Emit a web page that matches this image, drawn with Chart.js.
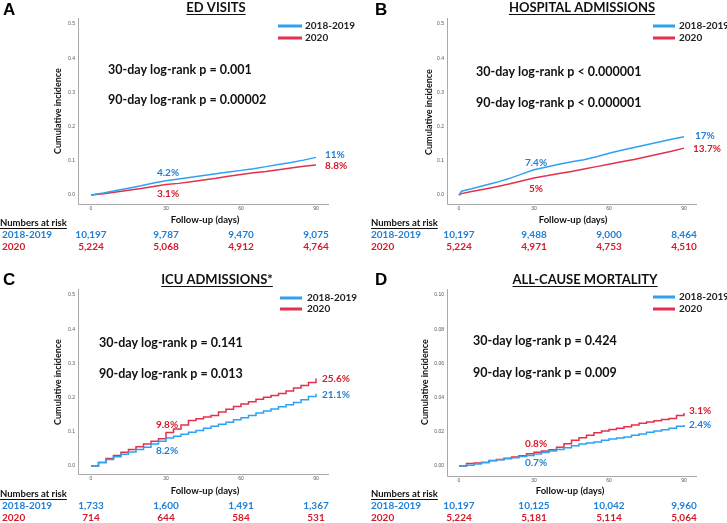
<!DOCTYPE html>
<html><head><meta charset="utf-8">
<script src="https://cdn.jsdelivr.net/npm/chart.js@4.4.1/dist/chart.umd.min.js"></script>
<style>
html,body{margin:0;padding:0;background:#fff}
body{width:727px;height:523px;position:relative;overflow:hidden}
.pane{position:absolute}
canvas{display:block}
</style></head>
<body>
<div class="pane" style="left:0;top:0"><canvas id="cA" width="363" height="261"></canvas></div>
<div class="pane" style="left:363px;top:0"><canvas id="cB" width="364" height="261"></canvas></div>
<div class="pane" style="left:0;top:261px"><canvas id="cC" width="363" height="262"></canvas></div>
<div class="pane" style="left:363px;top:261px"><canvas id="cD" width="364" height="262"></canvas></div>
<script>
// ---------- DATA ----------
const seriesNames = ['2018-2019', '2020'];
const riskDays = [0, 30, 60, 90];
const xTickValues = [0, 30, 60, 90];
const xTickLabels = ['0', '30', '60', '90'];
const yTicksMain = [0, 0.1, 0.2, 0.3, 0.4, 0.5];
const yTickLabelsMain = ['0.0', '0.1', '0.2', '0.3', '0.4', '0.5'];
const yTicksMort = [0, 0.02, 0.04, 0.06, 0.08, 0.10];
const yTickLabelsMort = ['0.00', '0.02', '0.04', '0.06', '0.08', '0.10'];

// A: ED visits
const edDays = [0, 5, 10, 15, 20, 25, 30, 35, 40, 45, 50, 55, 60, 65, 70, 75, 80, 85, 90];
const edBlue = [0, 0.006, 0.013, 0.020, 0.027, 0.035, 0.042, 0.047, 0.052, 0.057, 0.062, 0.067, 0.072, 0.077, 0.083, 0.089, 0.095, 0.102, 0.110];
const edRed  = [0, 0.004, 0.009, 0.014, 0.019, 0.025, 0.031, 0.034, 0.039, 0.044, 0.049, 0.055, 0.060, 0.065, 0.069, 0.074, 0.079, 0.084, 0.088];
const edRiskBlue = ['10,197', '9,787', '9,470', '9,075'];
const edRiskRed  = ['5,224', '5,068', '4,912', '4,764'];
const edPvals = ['30-day log-rank p = 0.001', '90-day log-rank p = 0.00002'];
const edMarkText = ['4.2%', '3.1%', '11%', '8.8%'];
const edMarkDay = [30, 30, 90, 90];
const edMarkSeries = [0, 1, 0, 1];

// B: Hospital admissions
const hospDays = [0, 1, 5, 10, 15, 20, 25, 30, 35, 40, 45, 50, 55, 60, 65, 70, 75, 80, 85, 90];
const hospBlue = [0, 0.011, 0.018, 0.028, 0.037, 0.048, 0.061, 0.074, 0.082, 0.090, 0.097, 0.103, 0.112, 0.122, 0.131, 0.139, 0.147, 0.155, 0.163, 0.170];
const hospRed  = [0, 0.004, 0.010, 0.017, 0.024, 0.032, 0.041, 0.050, 0.056, 0.063, 0.069, 0.076, 0.083, 0.090, 0.097, 0.104, 0.112, 0.120, 0.128, 0.137];
const hospRiskBlue = ['10,197', '9,488', '9,000', '8,464'];
const hospRiskRed  = ['5,224', '4,971', '4,753', '4,510'];
const hospPvals = ['30-day log-rank p < 0.000001', '90-day log-rank p < 0.000001'];
const hospMarkText = ['7.4%', '5%', '17%', '13.7%'];
const hospMarkDay = [30, 30, 90, 90];
const hospMarkSeries = [0, 1, 0, 1];

// C: ICU admissions
const icuDays = [0, 3, 6, 9, 12, 15, 18, 21, 24, 27, 30, 33, 36, 39, 42, 45, 48, 51, 54, 57, 60, 63, 66, 69, 72, 75, 78, 81, 84, 87, 90];
const icuBlue = [0, 0.010, 0.019, 0.027, 0.034, 0.041, 0.048, 0.055, 0.064, 0.072, 0.082, 0.087, 0.093, 0.099, 0.104, 0.110, 0.116, 0.122, 0.128, 0.135, 0.141, 0.148, 0.155, 0.161, 0.167, 0.173, 0.179, 0.186, 0.194, 0.203, 0.211];
const icuRed  = [0, 0.010, 0.022, 0.031, 0.040, 0.048, 0.056, 0.064, 0.072, 0.080, 0.098, 0.108, 0.120, 0.133, 0.138, 0.143, 0.148, 0.158, 0.166, 0.174, 0.181, 0.188, 0.195, 0.201, 0.206, 0.212, 0.219, 0.228, 0.235, 0.244, 0.256];
const icuRiskBlue = ['1,733', '1,600', '1,491', '1,367'];
const icuRiskRed  = ['714', '644', '584', '531'];
const icuPvals = ['30-day log-rank p = 0.141', '90-day log-rank p = 0.013'];
const icuMarkText = ['9.8%', '8.2%', '25.6%', '21.1%'];
const icuMarkDay = [30, 30, 90, 90];
const icuMarkSeries = [1, 0, 1, 0];

// D: All-cause mortality
const mortDays = [0, 3, 6, 9, 12, 15, 18, 21, 24, 27, 30, 33, 36, 39, 42, 45, 48, 51, 54, 57, 60, 63, 66, 69, 72, 75, 78, 81, 84, 87, 90];
const mortBlue = [0, 0.0005, 0.0012, 0.0020, 0.0030, 0.0036, 0.0042, 0.0048, 0.0055, 0.0062, 0.0070, 0.0079, 0.0088, 0.0097, 0.0107, 0.0118, 0.0128, 0.0135, 0.0140, 0.0150, 0.0158, 0.0163, 0.0170, 0.0180, 0.0187, 0.0197, 0.0205, 0.0212, 0.0220, 0.0232, 0.0240];
const mortRed  = [0, 0.0015, 0.0018, 0.0020, 0.0032, 0.0038, 0.0045, 0.0052, 0.0060, 0.0072, 0.0080, 0.0088, 0.0095, 0.0110, 0.0130, 0.0150, 0.0165, 0.0180, 0.0195, 0.0205, 0.0213, 0.0220, 0.0230, 0.0240, 0.0250, 0.0258, 0.0265, 0.0272, 0.0278, 0.0295, 0.0310];
const mortRiskBlue = ['10,197', '10,125', '10,042', '9,960'];
const mortRiskRed  = ['5,224', '5,181', '5,114', '5,064'];
const mortPvals = ['30-day log-rank p = 0.424', '90-day log-rank p = 0.009'];
const mortMarkText = ['0.8%', '0.7%', '3.1%', '2.4%'];
const mortMarkDay = [30, 30, 90, 90];
const mortMarkSeries = [1, 0, 1, 0];

// ---------- STYLE ----------
const LINE_BLUE = '#2fa2ef', LINE_RED = '#e3304c';
const TEXT_BLUE = '#1f7fd6', TEXT_RED = '#d51b2a';
const FONT = 'Lato, "Open Sans", sans-serif';
const AXIS_COLOR = '#a8a8a8';

const panels = [
  { id: 'cA', letter: 'A', title: 'ED VISITS', days: edDays, blue: edBlue, red: edRed, stepped: false,
    riskBlue: edRiskBlue, riskRed: edRiskRed, pvals: edPvals,
    markText: edMarkText, markDay: edMarkDay, markSeries: edMarkSeries,
    yTicks: yTicksMain, yLabels: yTickLabelsMain,
    L: { area: [78, 329, 18, 204], xr: [-5.2, 95.2], yr: [-0.0263, 0.5175], letter: [3, 10], title: [216, 8],
         legend: { x0: 278, x1: 302, tx: 305, y: [26, 38] }, pv: { x: 108, y: [70, 100] },
         yTitle: [58, 111], xTitle: [205, 220], riskHead: [0, 223], rows: [235, 247], rowX: 2,
         markOff: [[2, -8, 'center'], [2, 9, 'center'], [9, -3, 'left'], [9, 1, 'left']] } },
  { id: 'cB', letter: 'B', title: 'HOSPITAL ADMISSIONS', days: hospDays, blue: hospBlue, red: hospRed, stepped: false,
    riskBlue: hospRiskBlue, riskRed: hospRiskRed, pvals: hospPvals,
    markText: hospMarkText, markDay: hospMarkDay, markSeries: hospMarkSeries,
    yTicks: yTicksMain, yLabels: yTickLabelsMain,
    L: { area: [84, 334, 18, 204], xr: [-4.8, 95.2], yr: [-0.0263, 0.5175], letter: [12, 10], title: [219, 8],
         legend: { x0: 290, x1: 312, tx: 316, y: [26, 38] }, pv: { x: 113, y: [72, 103] },
         yTitle: [66, 112], xTitle: [210, 220], riskHead: [8, 223], rows: [235, 247], rowX: 8,
         markOff: [[2, -7, 'center'], [2, 11, 'center'], [11, -1, 'left'], [9, 1, 'left']] } },
  { id: 'cC', letter: 'C', title: 'ICU ADMISSIONS*', days: icuDays, blue: icuBlue, red: icuRed, stepped: true,
    riskBlue: icuRiskBlue, riskRed: icuRiskRed, pvals: icuPvals,
    markText: icuMarkText, markDay: icuMarkDay, markSeries: icuMarkSeries,
    yTicks: yTicksMain, yLabels: yTickLabelsMain,
    L: { area: [78, 329, 28, 213], xr: [-5.2, 95.2], yr: [-0.0234, 0.5175], letter: [3, 19], title: [217, 19],
         legend: { x0: 280, x1: 302, tx: 307, y: [37, 48] }, pv: { x: 99, y: [82, 113] },
         yTitle: [58, 121], xTitle: [205, 230], riskHead: [0, 233], rows: [245, 257], rowX: 2,
         markOff: [[1, -8, 'center'], [1, 13, 'center'], [6, 0, 'left'], [6, 1, 'left']] } },
  { id: 'cD', letter: 'D', title: 'ALL-CAUSE MORTALITY', days: mortDays, blue: mortBlue, red: mortRed, stepped: true,
    riskBlue: mortRiskBlue, riskRed: mortRiskRed, pvals: mortPvals,
    markText: mortMarkText, markDay: mortMarkDay, markSeries: mortMarkSeries,
    yTicks: yTicksMort, yLabels: yTickLabelsMort,
    L: { area: [84, 334, 28, 215], xr: [-4.8, 95.2], yr: [-0.00585, 0.1035], letter: [12, 19], title: [222, 19],
         legend: { x0: 290, x1: 312, tx: 316, y: [36, 48] }, pv: { x: 110, y: [80, 112] },
         yTitle: [62, 121], xTitle: [207, 230], riskHead: [8, 233], rows: [245, 257], rowX: 8,
         markOff: [[2, -9, 'center'], [2, 9, 'center'], [5, -2, 'left'], [5, 0, 'left']] } }
];

function txt(ctx, s, x, y, font, color, align) {
  ctx.font = font; ctx.fillStyle = color; ctx.textAlign = align || 'left'; ctx.textBaseline = 'middle';
  ctx.fillText(s, x, y);
  return ctx.measureText(s).width;
}

const axesPlugin = {
  id: 'panelAxes',
  beforeDatasetsDraw(chart) {
    const p = panels.find(q => q.id === chart.canvas.id);
    const ctx = chart.ctx, xs = chart.scales.x, ys = chart.scales.y, a = chart.chartArea;
    ctx.save();
    ctx.strokeStyle = AXIS_COLOR; ctx.lineWidth = 1;
    ctx.beginPath();
    ctx.moveTo(Math.round(a.left) + 0.5, a.top);
    ctx.lineTo(Math.round(a.left) + 0.5, Math.round(a.bottom) + 0.5);
    ctx.lineTo(a.right, Math.round(a.bottom) + 0.5);
    ctx.stroke();
    const tf = '5px Arial, sans-serif';
    for (let i = 0; i < p.yTicks.length; i++) {
      txt(ctx, p.yLabels[i], a.left - 3, ys.getPixelForValue(p.yTicks[i]), tf, '#555', 'right');
    }
    for (let i = 0; i < xTickValues.length; i++) {
      txt(ctx, xTickLabels[i], xs.getPixelForValue(xTickValues[i]), a.bottom + 5, tf, '#555', 'center');
    }
    ctx.restore();
  }
};

const textPlugin = {
  id: 'panelTexts',
  afterDraw(chart) {
    const p = panels.find(q => q.id === chart.canvas.id);
    const L = p.L, ctx = chart.ctx, xs = chart.scales.x, ys = chart.scales.y;
    ctx.save();
    txt(ctx, p.letter, L.letter[0], L.letter[1], 'bold 17px "Liberation Sans", Arial, sans-serif', '#000', 'left');
    const tw = txt(ctx, p.title, L.title[0], L.title[1], 'bold 13px ' + FONT, '#111', 'center');
    ctx.fillStyle = '#111'; ctx.fillRect(L.title[0] - tw / 2, L.title[1] + 6, tw, 1);
    const cols = [LINE_BLUE, LINE_RED];
    for (let i = 0; i < 2; i++) {
      ctx.fillStyle = cols[i];
      ctx.fillRect(L.legend.x0, L.legend.y[i] - 1.5, L.legend.x1 - L.legend.x0, 3);
      txt(ctx, seriesNames[i], L.legend.tx, L.legend.y[i], 'bold 10px ' + FONT, '#222', 'left');
    }
    for (let i = 0; i < 2; i++) txt(ctx, p.pvals[i], L.pv.x, L.pv.y[i], 'bold 12.5px ' + FONT, '#111', 'left');
    const series = [p.blue, p.red], tcols = [TEXT_BLUE, TEXT_RED];
    for (let i = 0; i < p.markText.length; i++) {
      const s = p.markSeries[i];
      const idx = p.days.indexOf(p.markDay[i]);
      const px = xs.getPixelForValue(p.markDay[i]) + L.markOff[i][0];
      const py = ys.getPixelForValue(series[s][idx]) + L.markOff[i][1];
      txt(ctx, p.markText[i], px, py, 'bold 10px ' + FONT, tcols[s], L.markOff[i][2]);
    }
    ctx.save();
    ctx.translate(L.yTitle[0], L.yTitle[1]); ctx.rotate(-Math.PI / 2);
    txt(ctx, 'Cumulative incidence', 0, 0, 'bold 9px ' + FONT, '#111', 'center');
    ctx.restore();
    txt(ctx, 'Follow-up (days)', L.xTitle[0], L.xTitle[1], 'bold 9.5px ' + FONT, '#111', 'center');
    const hw = txt(ctx, 'Numbers at risk', L.riskHead[0], L.riskHead[1], 'bold 9.5px ' + FONT, '#111', 'left');
    ctx.fillStyle = '#111'; ctx.fillRect(L.riskHead[0], L.riskHead[1] + 5, hw, 1);
    const rows = [p.riskBlue, p.riskRed];
    for (let r = 0; r < 2; r++) {
      txt(ctx, seriesNames[r], L.rowX, L.rows[r], 'bold 10px ' + FONT, tcols[r], 'left');
      for (let i = 0; i < riskDays.length; i++) {
        txt(ctx, rows[r][i], xs.getPixelForValue(riskDays[i]), L.rows[r], 'bold 10px ' + FONT, tcols[r], 'center');
      }
    }
    ctx.restore();
  }
};

panels.forEach(p => {
  const L = p.L, cv = document.getElementById(p.id);
  const W = cv.width, H = cv.height;
  const mkData = arr => p.days.map((d, i) => ({ x: d, y: arr[i] }));
  new Chart(cv, {
    type: 'line',
    data: {
      datasets: [
        { label: seriesNames[0], data: mkData(p.blue), borderColor: LINE_BLUE, borderWidth: 1.5, pointRadius: 0, stepped: p.stepped, fill: false },
        { label: seriesNames[1], data: mkData(p.red), borderColor: LINE_RED, borderWidth: 1.5, pointRadius: 0, stepped: p.stepped, fill: false }
      ]
    },
    options: {
      responsive: false, animation: false, devicePixelRatio: 1,
      layout: { padding: { left: 0, top: L.area[2], right: W - L.area[1], bottom: 0 } },
      plugins: { legend: { display: false }, tooltip: { enabled: false } },
      scales: {
        x: {
          type: 'linear', min: L.xr[0], max: L.xr[1],
          afterFit: s => { s.height = H - L.area[3]; },
          grid: { display: false }, border: { display: false },
          ticks: { display: false }
        },
        y: {
          type: 'linear', min: L.yr[0], max: L.yr[1],
          afterFit: s => { s.width = L.area[0]; },
          grid: { display: false }, border: { display: false },
          ticks: { display: false }
        }
      }
    },
    plugins: [axesPlugin, textPlugin]
  });
});
</script>
</body></html>
